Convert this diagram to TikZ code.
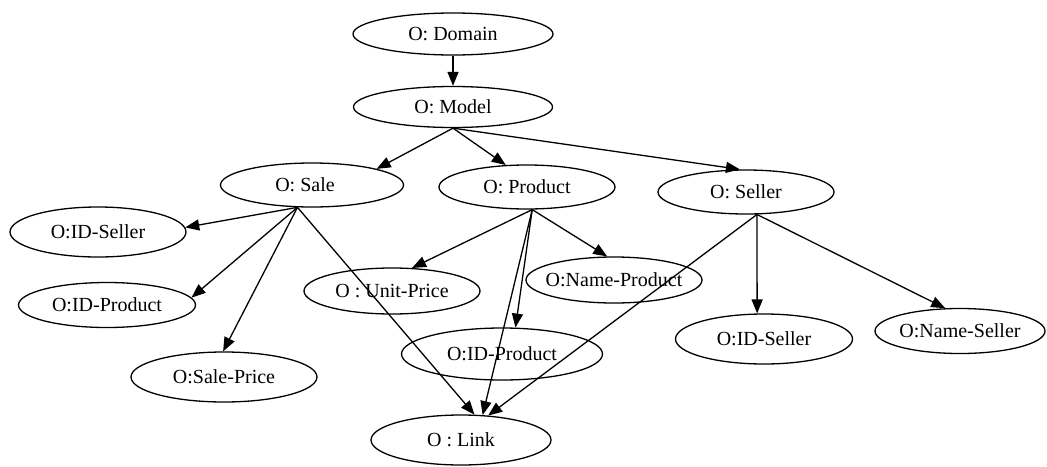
\documentclass[tikz,border=0pt]{standalone}
\usepackage{fontspec}
\setmainfont{Liberation Serif}
\usetikzlibrary{arrows.meta,shapes.geometric}
\newcommand\zw[1]{\makebox[0pt]{#1}}
\begin{document}
\begin{tikzpicture}[x=1pt,y=-1pt,
  ob/.style={ellipse,draw,line width=1.3pt,inner sep=0pt,font=\fontsize{20}{24}\selectfont},
  ed/.style={line width=1.3pt,-{Triangle[length=14pt,width=11pt]}}]
\useasboundingbox (0,0) rectangle (1047,466);
\node[ob,minimum width=200pt,minimum height=42pt] (dom) at (453,34) {\zw{O: Domain}};
\node[ob,minimum width=199pt,minimum height=41pt] (mod) at (453,107) {\zw{O: Model}};
\node[ob,minimum width=183pt,minimum height=44pt] (sale) at (312,185) {\zw{O: Sale\hspace{14pt}}};
\node[ob,minimum width=176pt,minimum height=44pt] (prod) at (527,187) {\zw{O: Product}};
\node[ob,minimum width=176pt,minimum height=44pt] (sell) at (746,192) {\zw{O: Seller}};
\node[ob,minimum width=176pt,minimum height=50pt] (ids1) at (98,232) {\zw{O:ID-Seller}};
\node[ob,minimum width=177pt,minimum height=45pt] (idp1) at (107,305) {\zw{O:ID-Product}};
\node[ob,minimum width=186pt,minimum height=50pt] (sp) at (224,377) {\zw{O:Sale-Price}};
\node[ob,minimum width=176pt,minimum height=46pt] (up) at (392,291) {\zw{O : Unit-Price}};
\node[ob,minimum width=176pt,minimum height=46pt] (np) at (614,280) {\zw{O:Name-Product}};
\node[ob,minimum width=201pt,minimum height=52pt] (idp2) at (502,354) {\zw{O:ID-Product}};
\node[ob,minimum width=177pt,minimum height=50pt] (ids2) at (764,339) {\zw{O:ID-Seller}};
\node[ob,minimum width=170pt,minimum height=45pt] (ns) at (960,331) {\zw{O:Name-Seller}};
\node[ob,minimum width=180pt,minimum height=50pt] (link) at (461,440) {\zw{O : Link}};
\draw[ed] (dom.south) -- (mod.north);
\draw[ed] (mod.south) -- (sale.14);
\draw[ed] (mod.south) -- (prod.134);
\draw[ed] (mod.south) -- (sell.105);
\draw[ed] (sale.-123) -- (ids1.3);
\draw[ed] (sale.-123) -- (idp1.5);
\draw[ed] (sale.-123) -- (sp.92);
\draw[ed] (sale.-123) -- (link.62);
\draw[ed] (prod.-77) -- (up.49);
\draw[ed] (prod.-77) -- (np.106);
\draw[ed] (prod.-77) -- (idp2.63);
\draw[ed] (prod.-77) -- (link.49);
\draw[ed] (sell.-64) -- (link.42);
\draw[ed] (sell.-64) -- (ids2.105);
\draw[ed] (sell.-64) -- (ns.123);
\end{tikzpicture}
\end{document}
